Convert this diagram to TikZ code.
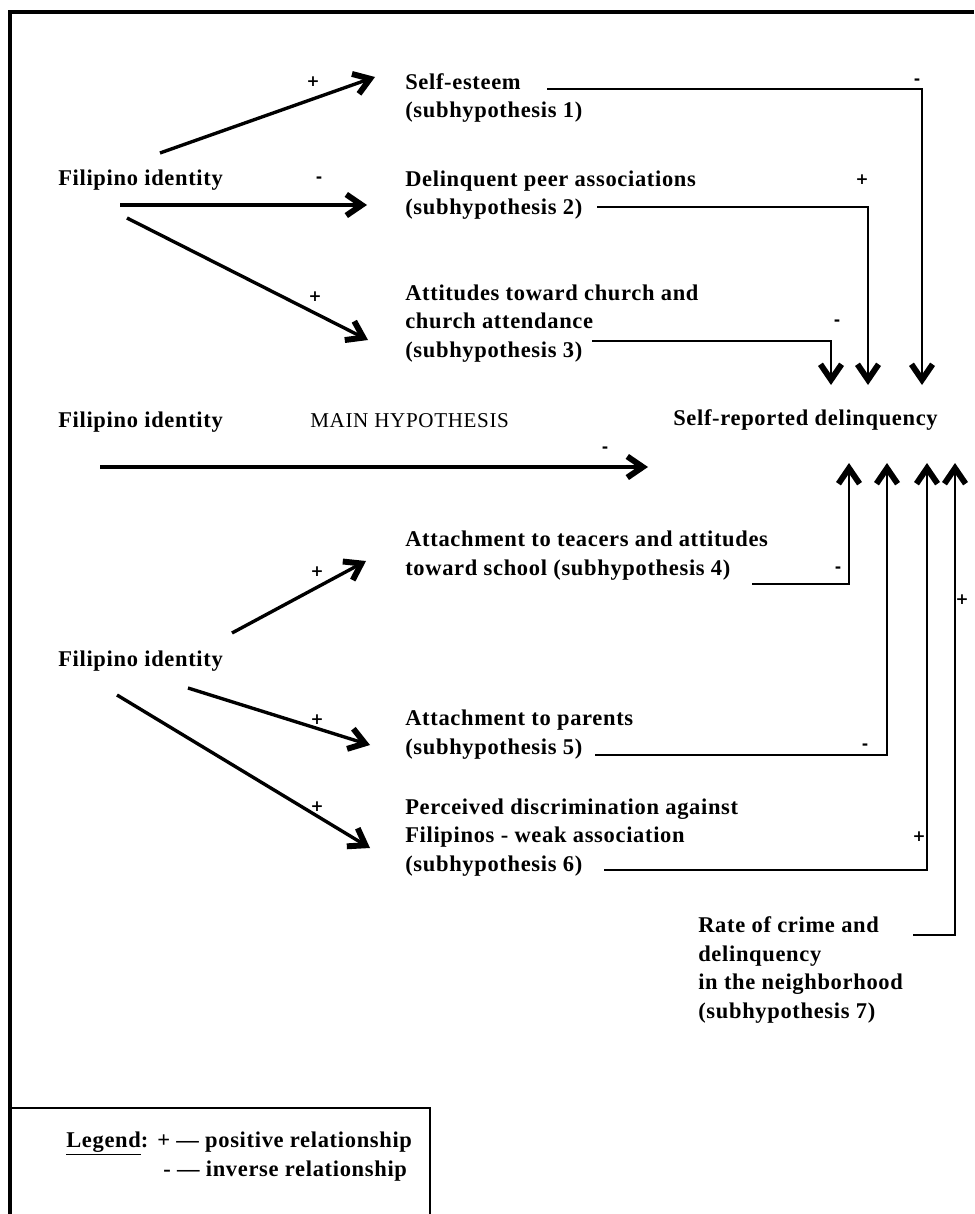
\documentclass[tikz,border=0pt]{standalone}
\usepackage{fontspec}
\setmainfont{Liberation Serif}[LetterSpace=3]
\newfontfamily\sgnfont{DejaVu Sans}
\usetikzlibrary{arrows.meta}

\tikzset{
  lbl/.style={font=\bfseries\fontsize{16}{20.2}\selectfont, anchor=base west, inner sep=0pt, align=left},
  sgn/.style={font=\sgnfont\bfseries\fontsize{11}{11}\selectfont, inner sep=0pt},
  barb/.tip={Straight Barb[length=11pt,width=15pt,line width=4.2pt]},
  diag/.style={line width=2.4pt, -barb},
  link/.style={line width=2pt, -barb},
}

\begin{document}
\begin{tikzpicture}[x=0.025cm,y=-0.025cm]
\useasboundingbox (0,0) rectangle (974,1214);

% frame and legend box
\draw[line width=2.2pt] (974,12) -- (10,12) -- (10,1214);
\draw[line width=1.8pt] (10,1108) -- (430,1108) -- (430,1214);

% texts (multi-line nodes sit on their last line)
\node[lbl] (fil1) at (58,186) {Filipino identity};
\node[lbl] (fil2) at (58,427) {Filipino identity};
\node[lbl] (fil3) at (58,666) {Filipino identity};
\node[lbl] (se)  at (405,118) {Self-esteem\\(subhypothesis 1)};
\node[lbl] (dpa) at (405,215) {Delinquent peer associations\\(subhypothesis 2)};
\node[lbl] (chu) at (405,357) {Attitudes toward church and\\church attendance\\(subhypothesis 3)};
\node[lbl, font=\fontsize{15}{16}\selectfont] (main) at (310,427) {MAIN HYPOTHESIS};
\node[lbl] (srd) at (673,425) {Self-reported delinquency};
\node[lbl] (tea) at (405,575) {Attachment to teacers and attitudes\\toward school (subhypothesis 4)};
\node[lbl] (par) at (405,754) {Attachment to parents\\(subhypothesis 5)};
\node[lbl] (dis) at (405,871) {Perceived discrimination against\\Filipinos - weak association\\(subhypothesis 6)};
\node[lbl] (nbh) at (698,1018) {Rate of crime and\\delinquency\\in the neighborhood\\(subhypothesis 7)};

\node[lbl] (leg)  at (66,1147)  {\underline{Legend}:};
\node[lbl] (legp) at (157,1147) {+ — positive relationship};
\node[lbl] (legm) at (163,1176) {- — inverse relationship};

% Filipino identity -> subhypotheses
\coordinate (a1) at (160,153); \coordinate (b1) at (375,77);
\coordinate (a2) at (120,205); \coordinate (b2) at (367,205);
\coordinate (a3) at (127,218); \coordinate (b3) at (368,340);
\coordinate (a4) at (232,633); \coordinate (b4) at (366,561);
\coordinate (a5) at (188,688); \coordinate (b5) at (370,745);
\coordinate (a6) at (117,695); \coordinate (b6) at (370,848);
\coordinate (m1) at (100,467); \coordinate (m2) at (648,467);

\draw[diag] (a1) -- (b1);
\draw[diag] (a2) -- (b2);
\draw[diag] (a3) -- (b3);
\draw[diag] (a4) -- (b4);
\draw[diag] (a5) -- (b5);
\draw[diag] (a6) -- (b6);
\draw[diag] (m1) -- (m2);

\node[sgn] (s1) at (313,82)  {+};
\node[sgn] (s2) at (319,180) {-};
\node[sgn] (s3) at (315,297) {+};
\node[sgn] (s4) at (317,572) {+};
\node[sgn] (s5) at (317,720) {+};
\node[sgn] (s6) at (317,807) {+};
\node[sgn] (sm) at (605,450) {-};

% subhypotheses -> self-reported delinquency
\coordinate (se-o)  at (547,89);  \coordinate (dn3) at (922,385);
\coordinate (dpa-o) at (597,207); \coordinate (dn2) at (868,385);
\coordinate (chu-o) at (592,341); \coordinate (dn1) at (831,385);
\coordinate (tea-o) at (752,584); \coordinate (up1) at (849,463);
\coordinate (par-o) at (595,755); \coordinate (up2) at (887,463);
\coordinate (dis-o) at (604,870); \coordinate (up3) at (927,463);
\coordinate (nbh-o) at (913,935); \coordinate (up4) at (955,463);

\draw[link] (se-o) -| (dn3);
\draw[link] (dpa-o) -| (dn2);
\draw[link] (chu-o) -| (dn1);
\draw[link] (tea-o) -| (up1);
\draw[link] (par-o) -| (up2);
\draw[link] (dis-o) -| (up3);
\draw[link] (nbh-o) -| (up4);

\node[sgn] (t1) at (917,82)  {-};
\node[sgn] (t2) at (862,180) {+};
\node[sgn] (t3) at (837,323) {-};
\node[sgn] (t4) at (838,570) {-};
\node[sgn] (t5) at (865,747) {-};
\node[sgn] (t6) at (919,837) {+};
\node[sgn] (t7) at (962,600) {+};

\end{tikzpicture}
\end{document}
